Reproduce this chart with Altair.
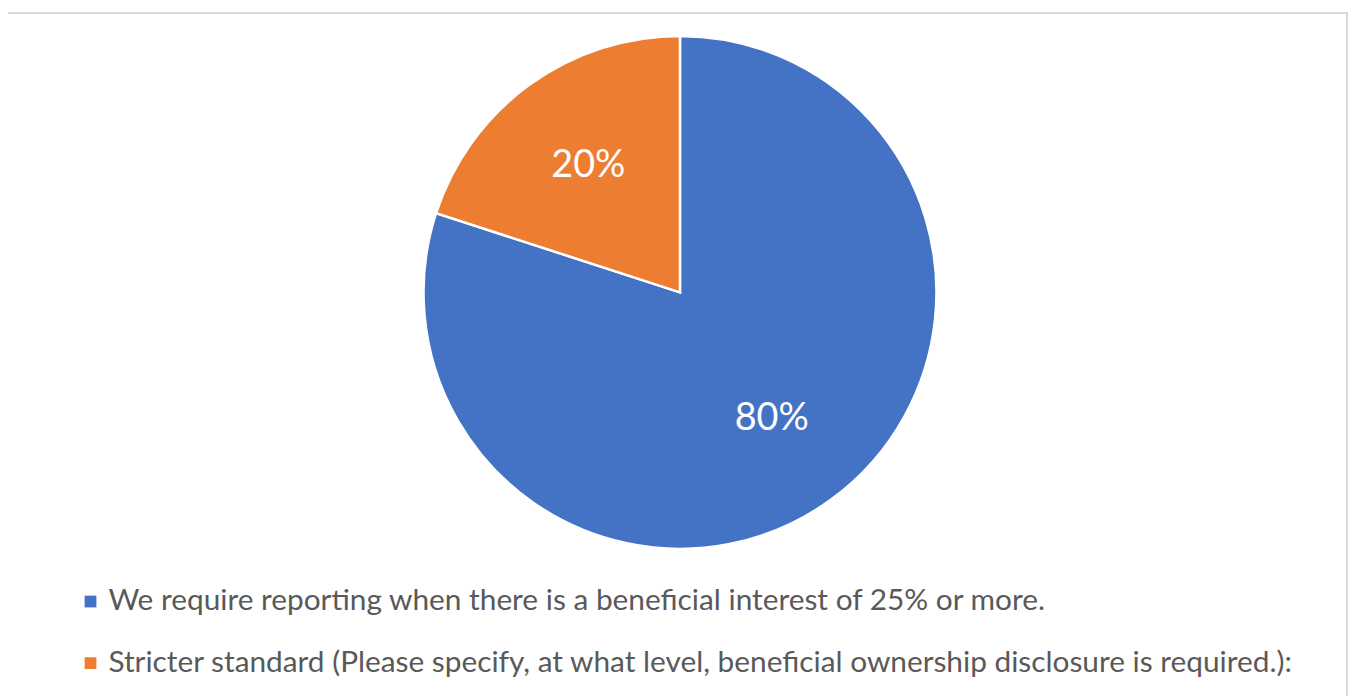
import altair as alt
import pandas as pd

categories = [
    "We require reporting when there is a beneficial interest of 25% or more.",
    "Stricter standard (Please specify, at what level, beneficial ownership disclosure is required.):",
]
values = [80, 20]
labels = ["80%", "20%"]
colors = ["#4472C4", "#ED7D31"]

df = pd.DataFrame({"cat": categories, "val": values, "label": labels, "idx": [0, 1]})

CX, CY, R = 680, 284, 258

base = alt.Chart(df).encode(
    theta=alt.Theta("val:Q", stack=True),
    order=alt.Order("idx:Q", sort="ascending"),
)

pie = base.mark_arc(radius=R, stroke="white", strokeWidth=2.5).encode(
    x=alt.value(CX - 4),
    y=alt.value(CY),
    color=alt.Color(
        "cat:N",
        scale=alt.Scale(domain=categories, range=colors),
        sort=categories,
        legend=alt.Legend(
            title=None,
            orient="none",
            legendX=68,
            legendY=580,
            direction="vertical",
            symbolType="square",
            symbolSize=140,
            symbolStrokeWidth=0,
            labelFontSize=30,
            labelFont="Lato",
            labelColor="#595959",
            labelOffset=3,
            rowPadding=32,
            labelLimit=1300,
            padding=0,
        ),
    ),
)

text = base.mark_text(radius=157, fontSize=38, font="Lato", color="white").encode(
    x=alt.value(CX - 4),
    y=alt.value(CY),
    text="label:N",
)

border = alt.Chart(df).mark_rect(fill=None, stroke="#d9d9d9", strokeWidth=2).encode(
    x=alt.value(-2), x2=alt.value(1347), y=alt.value(3), y2=alt.value(720)
)

chart = alt.layer(border, pie, text).properties(
    width=1349, height=688, autosize=alt.AutoSizeParams(type="none"), padding=0
).configure_view(stroke=None)

chart.save("out.html", embed_options={"renderer": "svg", "actions": False})
